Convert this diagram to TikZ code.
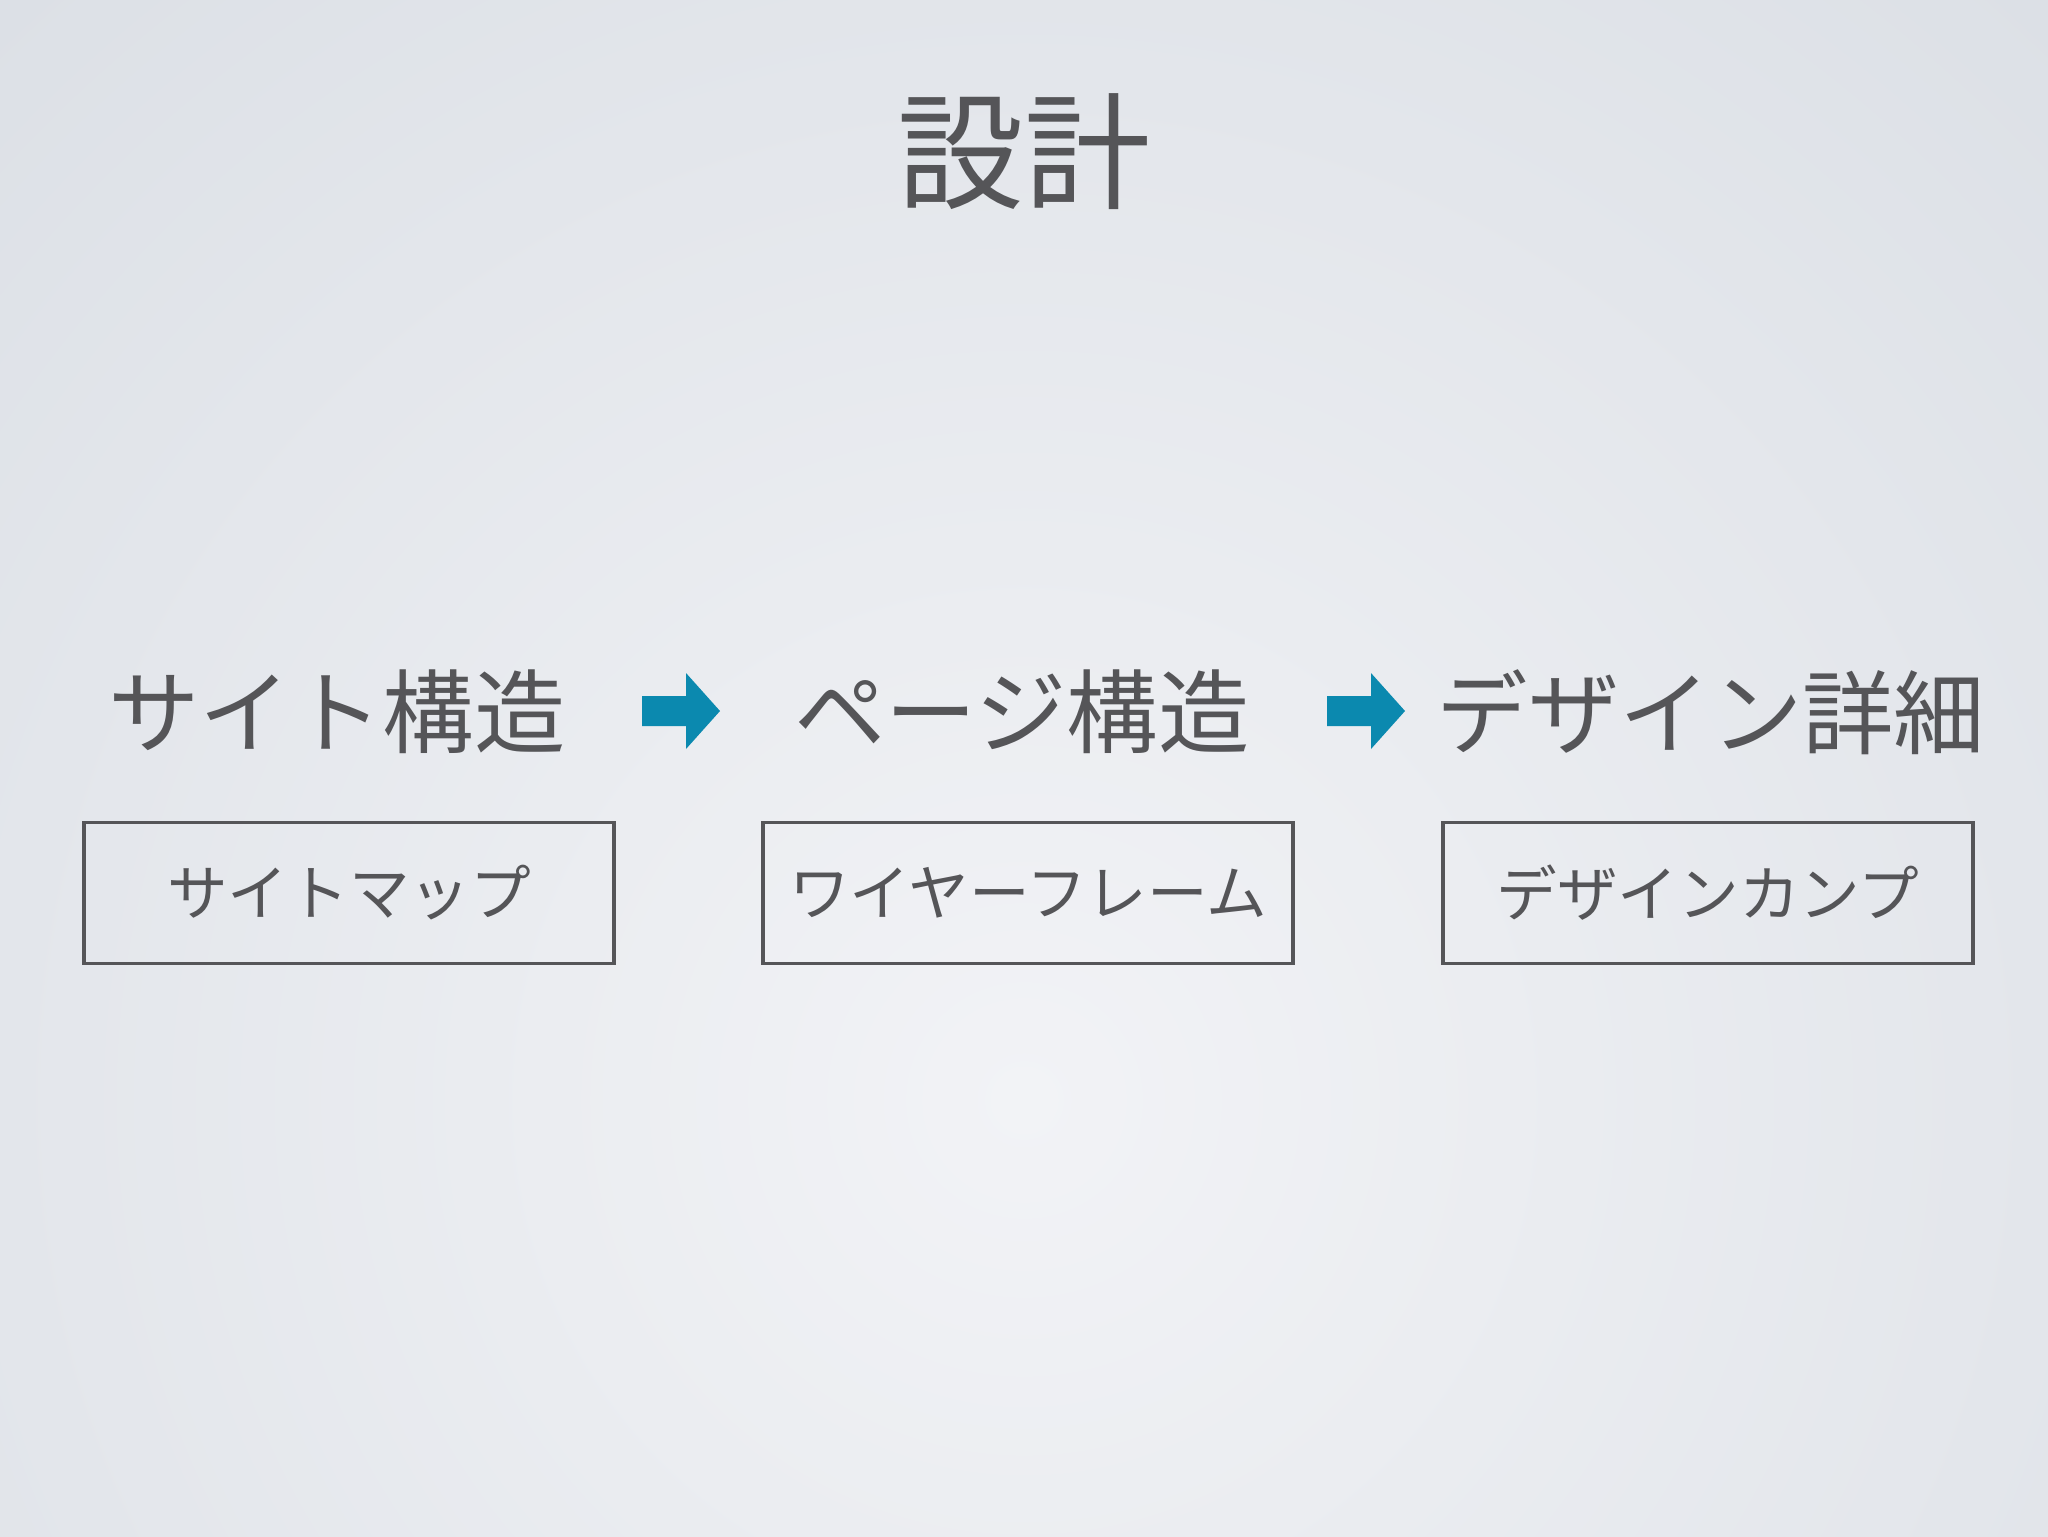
\documentclass[tikz,border=0pt]{standalone}
\usepackage{fontspec}
\newfontfamily\jp{Noto Sans CJK JP}
\usetikzlibrary{shadings}
\definecolor{ink}{HTML}{555558}
\definecolor{arrowblue}{HTML}{0B89AF}
\definecolor{bgout}{HTML}{DCE0E6}
\definecolor{bgin}{HTML}{F2F3F6}
\tikzset{
  title/.style={font=\jp\fontsize{72pt}{86pt}\selectfont, text=ink, inner sep=0pt},
  heading/.style={font=\jp\fontsize{52pt}{62pt}\selectfont, text=ink, inner sep=0pt},
  boxlabel/.style={draw=ink, line width=1.8pt, minimum width=106mm, minimum height=28.2mm,
    font=\jp\fontsize{34.5pt}{40pt}\selectfont, text=ink, inner sep=0pt},
  flowarrow/.style={fill=arrowblue, draw=none}
}
\begin{document}
\begin{tikzpicture}[x=0.2mm, y=-0.2mm]
\useasboundingbox (0,0) rectangle (2048,1536);
\fill[bgout] (0,0) rectangle (2048,1536);
\shade[inner color=bgin, outer color=bgout] (1024,1100) circle (1500);
\node[title] (t) at (1024,152) {設計};
\node[heading] (h1) at (337,712) {サイト構造};
\node[heading] (h2) at (1022,712) {ページ構造};
\node[heading] (h3) at (1711,712) {デザイン詳細};
\node[boxlabel] (b1) at (349,893) {サイトマップ};
\node[boxlabel] (b2) at (1028,893) {ワイヤーフレーム};
\node[boxlabel] (b3) at (1708,893) {デザインカンプ};
\coordinate (a1) at (642,711);
\coordinate (a2) at (1327,711);
\foreach \a in {a1,a2}{
  \fill[flowarrow] (\a) ++(0,-15) -- ++(44,0) -- ++(0,-23) -- ++(34,38) -- ++(-34,38) -- ++(0,-23) -- ++(-44,0) -- cycle;
}
\end{tikzpicture}
\end{document}
